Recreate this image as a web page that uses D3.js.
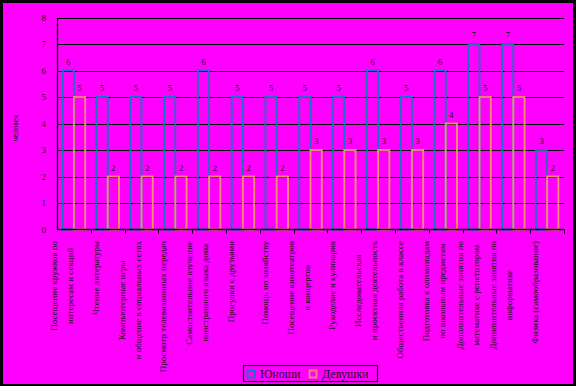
<!DOCTYPE html>
<html>
<head>
<meta charset="utf-8">
<script src="https://cdn.jsdelivr.net/npm/d3@7"></script>
<style>
  html, body { margin: 0; padding: 0; background: #000; }
  svg { display: block; font-family: "Liberation Serif", "Times New Roman", serif; }
</style>
</head>
<body>
<div id="chart"></div>
<script>
// ── Data ──────────────────────────────────────────────────────────────────
const categories = [
  ["Посещение кружков по", "интересам и секций"],
  ["Чтение литературы"],
  ["Компьютерные игры", "и общение в социальных сетях"],
  ["Просмотр телевизионных передач"],
  ["Самостоятельное изучение", "иностранного языка дома"],
  ["Прогулки с друзьями"],
  ["Помощь по хозяйству"],
  ["Посещение кинотеатров", "и концертов"],
  ["Рукоделие и кулинария"],
  ["Исследовательская", "и проектная деятельность"],
  ["Общественная работа в классе"],
  ["Подготовка к олимпиадам", "по школьным предметам"],
  ["Дополнительные занятия по", "математике с репетитором"],
  ["Дополнительные занятия по", "информатике"],
  ["Физика (самообразование)"]
];
const seriesNames = ["Юноши", "Девушки"];
const boys  = [6, 5, 5, 5, 6, 5, 5, 5, 5, 6, 5, 6, 7, 7, 3];
const girls = [5, 2, 2, 2, 2, 2, 2, 3, 3, 3, 3, 4, 5, 5, 2];
const yTicks = [0, 1, 2, 3, 4, 5, 6, 7, 8];
const yLabel = "человек";

const colors = { "Юноши": "#1a72c2", "Девушки": "#f28c6c" };
const BG = "#ff00ff";

// ── Layout ────────────────────────────────────────────────────────────────
const totalW = 576, totalH = 386;
const plot = { left: 57, right: 564, top: 17.5, bottom: 229.5 };

const svg = d3.select("#chart").append("svg")
  .attr("width", totalW)
  .attr("height", totalH);

// outer black frame + magenta chart area
svg.append("rect").attr("width", totalW).attr("height", totalH).attr("fill", "#000");
svg.append("rect")
  .attr("x", 3).attr("y", 3)
  .attr("width", totalW - 6).attr("height", totalH - 5)
  .attr("fill", BG);

// ── Scales ────────────────────────────────────────────────────────────────
const idx = d3.range(categories.length);

const x0 = d3.scaleBand()
  .domain(idx)
  .range([plot.left, plot.right])
  .padding(0);

const x1 = d3.scaleBand()
  .domain(seriesNames)
  .range([0, x0.bandwidth()])
  .paddingInner(0)
  .paddingOuter(0.5);

const y = d3.scaleLinear()
  .domain([0, 8])
  .range([plot.bottom, plot.top]);

// ── Grid ──────────────────────────────────────────────────────────────────
svg.append("g")
  .selectAll("line")
  .data(yTicks.filter(d => d > 0))
  .join("line")
  .attr("x1", plot.left).attr("x2", plot.right)
  .attr("y1", d => Math.round(y(d)) + 0.5)
  .attr("y2", d => Math.round(y(d)) + 0.5)
  .attr("stroke", "#000")
  .attr("stroke-width", 1);

// ── Bars ──────────────────────────────────────────────────────────────────
const rows = idx.map(i => ({ i, values: [boys[i], girls[i]] }));

const groups = svg.append("g")
  .selectAll("g")
  .data(rows)
  .join("g")
  .attr("transform", d => `translate(${x0(d.i)},0)`);

groups.selectAll("rect")
  .data(d => seriesNames.map((s, k) => ({ s, v: d.values[k] })))
  .join("rect")
  .attr("x", d => x1(d.s))
  .attr("y", d => y(d.v))
  .attr("width", x1.bandwidth())
  .attr("height", d => y(0) - y(d.v))
  .attr("fill", "none")
  .attr("stroke", d => colors[d.s])
  .attr("stroke-width", 1.9);

// value labels
groups.selectAll("text")
  .data(d => seriesNames.map((s, k) => ({ s, v: d.values[k] })))
  .join("text")
  .attr("x", d => x1(d.s) + x1.bandwidth() / 2)
  .attr("y", d => y(d.v) - 6)
  .attr("text-anchor", "middle")
  .attr("font-size", 9)
  .attr("fill", "#111")
  .text(d => d.v);

// ── Axes ──────────────────────────────────────────────────────────────────
const yAxis = svg.append("g")
  .attr("transform", `translate(${plot.left},0)`)
  .call(d3.axisLeft(y).tickValues(yTicks).tickSize(0).tickPadding(11));
yAxis.select(".domain").attr("stroke", "#000").attr("stroke-width", 1.3);
yAxis.selectAll("text")
  .attr("font-family", "Liberation Serif, serif")
  .attr("font-size", 9)
  .attr("fill", "#111");

// x axis line + ticks at category boundaries
svg.append("line")
  .attr("x1", plot.left).attr("x2", plot.right)
  .attr("y1", plot.bottom).attr("y2", plot.bottom)
  .attr("stroke", "#000").attr("stroke-width", 1.3);

svg.append("g")
  .selectAll("line")
  .data(idx)
  .join("line")
  .attr("x1", d => Math.round(x0(d) + x0.bandwidth()) + 0.5)
  .attr("x2", d => Math.round(x0(d) + x0.bandwidth()) + 0.5)
  .attr("y1", plot.bottom).attr("y2", plot.bottom + 4)
  .attr("stroke", "#000");

// category labels: rotated, block top-aligned, lines centred in block
const labelTop = 241;
const lineGap = 16;
const catG = svg.append("g").attr("font-size", 9).attr("fill", "#111");

idx.forEach(i => {
  const lines = categories[i];
  const cx = x0(i) + x0.bandwidth() / 2 - 12;
  const tmp = lines.map(t => catG.append("text").text(t));
  const maxW = d3.max(tmp, t => t.node().getComputedTextLength());
  tmp.forEach(t => t.remove());
  const yc = labelTop + maxW / 2;
  lines.forEach((t, k) => {
    const lx = cx + (k - (lines.length - 1) / 2) * lineGap;
    catG.append("text")
      .attr("transform", `translate(${lx},${yc}) rotate(-90)`)
      .attr("text-anchor", "middle")
      .attr("dy", "0.35em")
      .text(t);
  });
});

// y axis title
svg.append("text")
  .attr("transform", "translate(15,128) rotate(-90)")
  .attr("text-anchor", "middle")
  .attr("dy", "0.35em")
  .attr("font-size", 8)
  .attr("fill", "#111")
  .text(yLabel);

// ── Legend ────────────────────────────────────────────────────────────────
const legend = svg.append("g");
legend.append("rect")
  .attr("x", 243.5).attr("y", 365.5)
  .attr("width", 134).attr("height", 16)
  .attr("fill", "none").attr("stroke", "#000").attr("stroke-width", 1.2);

const legendX = [247, 309];
seriesNames.forEach((s, k) => {
  legend.append("rect")
    .attr("x", legendX[k] + 0.5).attr("y", 370.5)
    .attr("width", 7).attr("height", 7)
    .attr("fill", "none")
    .attr("stroke", colors[s]).attr("stroke-width", 1.8);
  legend.append("text")
    .attr("x", legendX[k] + 13).attr("y", 377.5)
    .attr("font-size", 12)
    .attr("fill", "#111")
    .text(s);
});
</script>
</body>
</html>
